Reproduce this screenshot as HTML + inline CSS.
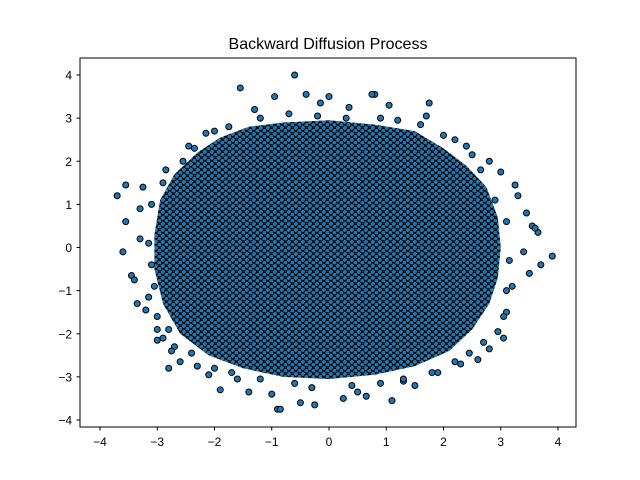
<!DOCTYPE html>
<html><head><meta charset="utf-8"><style>
body{margin:0;background:#fff;}
svg{display:block;font-family:"Liberation Sans","DejaVu Sans",sans-serif;}
</style></head><body>
<svg id="chart" width="640" height="480">
<defs>
<pattern id="dots" width="7" height="6" patternUnits="userSpaceOnUse">
<rect width="7" height="6" fill="#0d2a40"/>
<circle cx="2" cy="2" r="2.6" fill="#1f77b4" stroke="#000" stroke-width="1"/>
<circle cx="5.5" cy="5" r="2.6" fill="#1f77b4" stroke="#000" stroke-width="1"/>
</pattern>
<clipPath id="plotclip"><rect x="80" y="58" width="496" height="369"/></clipPath>
</defs>
<rect x="0" y="0" width="640" height="480" fill="#fff"/>
<text x="328" y="49" text-anchor="middle" font-size="16" fill="#000">Backward Diffusion Process</text>
<g id="marks" clip-path="url(#plotclip)"></g>
<rect x="80" y="58" width="496" height="369" fill="none" stroke="#000" stroke-width="1"/>
<g id="axes"></g>
</svg>
<script>
// cloud outline of the dense point mass (data units)
const hullX = [-3.05,-2.95,-2.7,-2.3,-1.9,-1.4,-0.8,0.0,0.8,1.5,2.0,2.4,2.75,2.95,3.0,2.95,2.8,2.5,2.1,1.5,0.8,0.0,-0.8,-1.5,-2.1,-2.6,-2.9,-3.05];
const hullY = [0.3,1.1,1.7,2.2,2.55,2.8,2.9,2.95,2.85,2.7,2.3,1.9,1.4,0.7,0.0,-0.7,-1.3,-1.9,-2.4,-2.75,-2.95,-3.05,-3.0,-2.8,-2.5,-2.0,-1.3,-0.5];
// individually visible samples
const pointsX = [-3.70,-3.55,-3.55,-3.6,-3.45,-3.4,-3.35,-3.2,-3.15,-3.3,-3.25,-3.0,-2.9,-2.8,-2.6,-2.3,-2.1,-1.9,-1.6,-1.4,-1.0,-0.9,-0.85,-0.5,-0.25,0.25,0.5,0.65,1.1,1.5,1.9,2.3,2.6,3.05,3.1,3.2,3.5,3.7,3.9,3.65,3.55,3.45,3.3,3.25,3.0,2.8,2.4,2.0,1.75,1.05,0.8,0.75,-0.15,-0.6,-0.95,-1.55,-1.3,-2.0,-2.45,-2.85,-0.4,0.0,0.35,3.4,3.6,-3.1,-3.3,2.7,-2.7,1.3,
 -3.1,-3.15,-3.05,-3.0,-2.9,-2.75,-2.55,-2.35,-2.15,-1.75,-1.2,-0.7,-0.2,0.3,0.9,1.2,1.6,2.2,2.5,2.65,2.9,3.1,3.15,3.1,3.05,2.95,2.8,2.45,2.2,1.8,1.3,0.9,0.4,-0.3,-0.6,-1.2,-1.7,-2.4,-2.8,-3.0,-2.0,1.7];
const pointsY = [1.2,1.45,0.6,-0.1,-0.65,-0.75,-1.3,-1.45,-1.15,0.9,1.4,-2.15,-2.1,-2.8,-2.65,-2.75,-2.95,-3.3,-3.05,-3.35,-3.4,-3.75,-3.75,-3.6,-3.65,-3.5,-3.35,-3.45,-3.55,-3.2,-2.9,-2.7,-2.6,-2.1,-1.5,-0.9,-0.6,-0.4,-0.2,0.35,0.5,0.8,1.2,1.45,1.75,2.0,2.35,2.6,3.35,3.3,3.55,3.55,3.35,4.0,3.5,3.7,3.2,2.7,2.35,1.8,3.55,3.5,3.25,-0.1,0.45,-0.4,0.2,-2.2,-2.3,-3.1,
 1.0,0.1,-0.9,-1.6,1.5,-2.4,2.0,2.3,2.65,2.8,3.0,3.1,3.05,3.0,3.0,2.95,2.85,2.5,2.15,1.8,1.1,0.6,-0.3,-1.0,-1.6,-1.95,-2.35,-2.45,-2.65,-2.9,-3.05,-3.15,-3.2,-3.25,-3.15,-3.05,-2.9,-2.45,-1.9,-1.9,-2.8,3.05];
const xTicks = [-4,-3,-2,-1,0,1,2,3,4];
const yTicks = [-4,-3,-2,-1,0,1,2,3,4];

const NS="http://www.w3.org/2000/svg";
const sx = v => 329 + v*57.25;
const sy = v => 247.5 - v*43.125;
const marks=document.getElementById('marks');
const axes=document.getElementById('axes');

const hull=document.createElementNS(NS,'polygon');
hull.setAttribute('points', hullX.map((x,i)=>sx(x)+','+sy(hullY[i])).join(' '));
hull.setAttribute('fill','url(#dots)');
hull.setAttribute('stroke','none');


marks.appendChild(hull);

pointsX.forEach((x,i)=>{
  const c=document.createElementNS(NS,'circle');
  c.setAttribute('cx',sx(x)); c.setAttribute('cy',sy(pointsY[i]));
  c.setAttribute('r',3); c.setAttribute('fill','#1f77b4');
  c.setAttribute('stroke','#000'); c.setAttribute('stroke-width','1');
  
  
  marks.appendChild(c);
});

xTicks.forEach(t=>{
  const l=document.createElementNS(NS,'line');
  l.setAttribute('x1',sx(t));l.setAttribute('x2',sx(t));l.setAttribute('y1',427);l.setAttribute('y2',430.5);
  l.setAttribute('stroke','#000');
  
  
  axes.appendChild(l);
  const tx=document.createElementNS(NS,'text');
  tx.setAttribute('x',sx(t));tx.setAttribute('y',446);tx.setAttribute('text-anchor','middle');tx.setAttribute('font-size','12');
  tx.textContent=(t<0?'\u2212'+(-t):String(t));
  
  
  axes.appendChild(tx);
});
yTicks.forEach(t=>{
  const l=document.createElementNS(NS,'line');
  l.setAttribute('x1',76.5);l.setAttribute('x2',80);l.setAttribute('y1',sy(t));l.setAttribute('y2',sy(t));
  l.setAttribute('stroke','#000');
  
  
  axes.appendChild(l);
  const tx=document.createElementNS(NS,'text');
  tx.setAttribute('x',72);tx.setAttribute('y',sy(t)+4.5);tx.setAttribute('text-anchor','end');tx.setAttribute('font-size','12');
  tx.textContent=(t<0?'\u2212'+(-t):String(t));
  
  
  axes.appendChild(tx);
});
</script>
</body></html>
